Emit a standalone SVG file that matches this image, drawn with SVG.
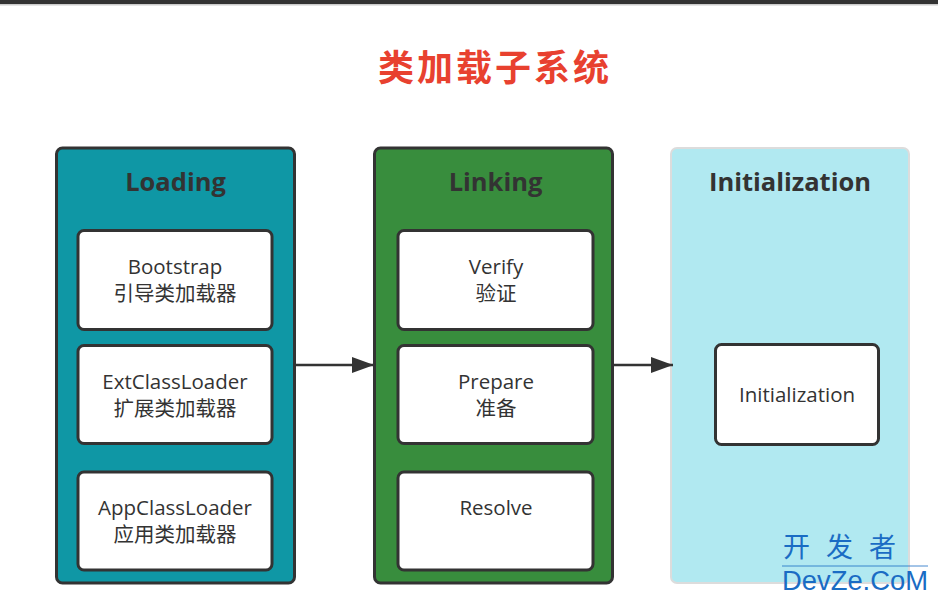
<svg xmlns="http://www.w3.org/2000/svg" width="938" height="601" viewBox="0 0 938 601">
<defs>
<style>
.t{font-family:"Open Sans","Noto Sans CJK SC",sans-serif;fill:#333;}
.title{font-family:"Noto Sans CJK SC",sans-serif;font-weight:bold;font-size:36px;fill:#e8412f;letter-spacing:3px;}
.hd{font-size:25.5px;font-weight:bold;text-anchor:middle;}
.lb{font-size:20.5px;text-anchor:middle;}
.box{fill:#fff;stroke:#333;stroke-width:3;}
.edge{stroke:#333;stroke-width:2.5;fill:none;}
.wm{fill:#1a6cc4;}
</style>
<marker id="ah" viewBox="0 0 10 10" refX="10" refY="5" markerWidth="22" markerHeight="16" markerUnits="userSpaceOnUse" orient="auto" preserveAspectRatio="none">
<path d="M0,0 L10,5 L0,10 Z" fill="#333"/>
</marker>
</defs>
<rect x="0" y="0" width="938" height="601" fill="#fff"/>
<rect x="0" y="0" width="938" height="4" fill="#333"/>
<rect x="0" y="4" width="938" height="1.5" fill="#ccc"/>
<text class="title" x="495" y="81" text-anchor="middle">类加载子系统</text>

<g id="loading">
<rect x="56.5" y="148" width="238" height="435" rx="6" fill="#0f97a5" stroke="#333" stroke-width="3"/>
<text class="t hd" x="175.5" y="191">Loading</text>
</g>
<g id="bootstrap">
<rect class="box" x="78" y="230.5" width="194" height="99" rx="6"/>
<text class="t lb" x="175" y="274">Bootstrap</text>
<text class="t lb" x="175" y="301">引导类加载器</text>
</g>
<g id="ext">
<rect class="box" x="78" y="345.5" width="194" height="98" rx="6"/>
<text class="t lb" x="175" y="389">ExtClassLoader</text>
<text class="t lb" x="175" y="416">扩展类加载器</text>
</g>
<g id="app">
<rect class="box" x="78" y="472" width="194" height="98" rx="6"/>
<text class="t lb" x="175" y="515">AppClassLoader</text>
<text class="t lb" x="175" y="542">应用类加载器</text>
</g>

<g id="linking">
<rect x="374.5" y="148" width="238" height="435" rx="6" fill="#388d3d" stroke="#333" stroke-width="3"/>
<text class="t hd" x="495.5" y="191">Linking</text>
</g>
<g id="verify">
<rect class="box" x="398" y="230.5" width="195" height="99" rx="6"/>
<text class="t lb" x="496" y="274">Verify</text>
<text class="t lb" x="496" y="301">验证</text>
</g>
<g id="prepare">
<rect class="box" x="398" y="345.5" width="195" height="98" rx="6"/>
<text class="t lb" x="496" y="389">Prepare</text>
<text class="t lb" x="496" y="416">准备</text>
</g>
<g id="resolve">
<rect class="box" x="398" y="472" width="195" height="98" rx="6"/>
<text class="t lb" x="496" y="515">Resolve</text>
</g>

<g id="initialization">
<rect x="671" y="148" width="238" height="435" rx="6" fill="#b1e9f1" stroke="#dcdcdc" stroke-width="2"/>
<text class="t hd" x="790" y="191">Initialization</text>
</g>
<g id="init-box">
<rect class="box" x="715.5" y="344.5" width="163" height="100" rx="6"/>
<text class="t lb" x="797" y="402">Initialization</text>
</g>

<g id="connectors">
<line class="edge" x1="296" y1="365" x2="374" y2="365" marker-end="url(#ah)"/>
<line class="edge" x1="614" y1="365" x2="673" y2="365" marker-end="url(#ah)"/>
</g>

<g id="watermark">
<text class="wm" x="783" y="557" font-size="27" letter-spacing="16" font-family="'Noto Sans CJK SC',sans-serif">开发者</text>
<line x1="782" y1="566" x2="928" y2="566" stroke="#1a6cc4" stroke-width="0.8"/>
<text class="wm" x="782" y="590" font-size="27" font-family="'Liberation Sans',sans-serif" textLength="146" lengthAdjust="spacingAndGlyphs">DevZe.CoM</text>
</g>
</svg>
